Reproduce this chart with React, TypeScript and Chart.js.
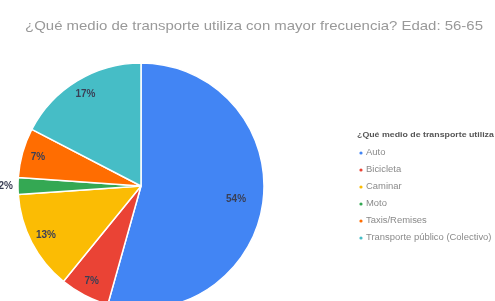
import React, { useEffect, useRef } from "react";
import { Chart, registerables } from "chart.js";

Chart.register(...registerables);

const chartTitle = "¿Qué medio de transporte utiliza con mayor frecuencia? Edad: 56-65";
const legendTitle = "¿Qué medio de transporte utiliza con mayor frecuencia? Edad: 56-65";
const categories = [
  "Auto",
  "Bicicleta",
  "Caminar",
  "Moto",
  "Taxis/Remises",
  "Transporte público (Colectivo)",
];
const counts = [25, 3, 6, 1, 3, 8];
const colors = ["#4285F4", "#EA4335", "#FBBC04", "#34A853", "#FF6D01", "#46BDC6"];

const W = 495;
const H = 301;

function stretchedText(ctx: CanvasRenderingContext2D, text: string, x: number, y: number, sx: number) {
  ctx.save();
  ctx.translate(x, y);
  ctx.scale(sx, 1);
  ctx.fillText(text, 0, 0);
  ctx.restore();
}

const overlayPlugin = {
  id: "overlay",
  afterDatasetsDraw(chart: any) {
    const ctx = chart.ctx as CanvasRenderingContext2D;
    const meta = chart.getDatasetMeta(0);
    const total = counts.reduce((a, b) => a + b, 0);
    ctx.save();
    ctx.font = "bold 10px 'Liberation Sans', Arial, sans-serif";
    ctx.textAlign = "center";
    ctx.textBaseline = "middle";
    meta.data.forEach((arc: any, i: number) => {
      const pct = Math.round((counts[i] / total) * 100);
      const mid = (arc.startAngle + arc.endAngle) / 2;
      const share = counts[i] / total;
      const f = share < 0.05 ? 1.1 : share > 0.4 ? 0.78 : 0.87;
      const x = arc.x + Math.cos(mid) * arc.outerRadius * f;
      const y = arc.y + Math.sin(mid) * arc.outerRadius * f;
      ctx.fillStyle = "#3a3f55";
      ctx.fillText(pct + "%", x, y);
    });
    ctx.restore();
  },
  afterDraw(chart: any) {
    const ctx = chart.ctx as CanvasRenderingContext2D;
    ctx.save();
    // title
    ctx.font = "13px 'Liberation Sans', Arial, sans-serif";
    ctx.fillStyle = "#999999";
    ctx.textAlign = "center";
    ctx.textBaseline = "middle";
    stretchedText(ctx, chartTitle, 254, 26, 1.15);
    // legend
    ctx.textAlign = "left";
    ctx.font = "bold 8px 'Liberation Sans', Arial, sans-serif";
    ctx.fillStyle = "#555555";
    stretchedText(ctx, legendTitle, 357, 135, 1.1);
    ctx.font = "8.5px 'Liberation Sans', Arial, sans-serif";
    categories.forEach((c, i) => {
      const y = 153 + i * 17;
      ctx.fillStyle = colors[i];
      ctx.beginPath();
      ctx.arc(361, y, 1.6, 0, Math.PI * 2);
      ctx.fill();
      ctx.fillStyle = "#8a8a8a";
      stretchedText(ctx, c, 366, y, 1.11);
    });
    ctx.restore();
  },
};

export default function App() {
  const ref = useRef<HTMLCanvasElement | null>(null);
  useEffect(() => {
    if (!ref.current) return;
    const chart = new Chart(ref.current, {
      type: "pie",
      data: {
        labels: categories,
        datasets: [
          {
            data: counts,
            backgroundColor: colors,
            borderColor: "#ffffff",
            borderWidth: 1.5,
          },
        ],
      },
      options: {
        responsive: false,
        animation: false,
        devicePixelRatio: 1,
        radius: 123,
        layout: { padding: { left: 0, right: W - 282, top: 71, bottom: 0 } },
        plugins: {
          legend: { display: false },
          title: { display: false },
          tooltip: { enabled: false },
        },
      } as any,
      plugins: [overlayPlugin],
    });
    return () => chart.destroy();
  }, []);
  return (
    <div style={{ position: "fixed", left: 0, top: 0, width: W, height: H, background: "#fff" }}>
      <canvas ref={ref} width={W} height={H} style={{ width: W, height: H, filter: "blur(0.7px)" }} />
    </div>
  );
}
